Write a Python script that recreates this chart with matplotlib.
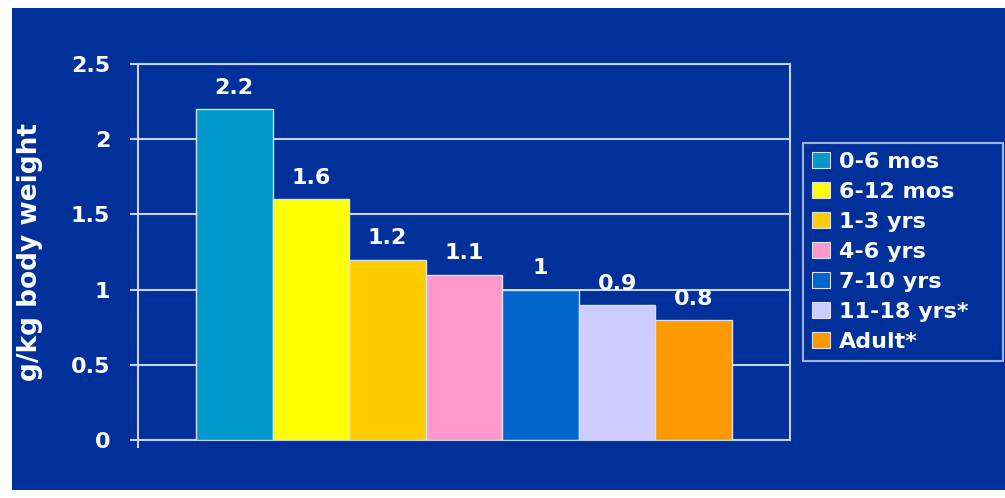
import matplotlib
matplotlib.use("Agg")
import matplotlib.pyplot as plt
from matplotlib.patches import Rectangle, Patch

# data
groups = ['0-6 mos', '6-12 mos', '1-3 yrs', '4-6 yrs', '7-10 yrs', '11-18 yrs*', 'Adult*']
values = [2.2, 1.6, 1.2, 1.1, 1.0, 0.9, 0.8]
labels = ['2.2', '1.6', '1.2', '1.1', '1', '0.9', '0.8']
colors = ['#0099CC', '#FFFF00', '#FFCC00', '#FF99CC', '#0066CC', '#CCCCFF', '#FF9900']
yticks = [0, 0.5, 1, 1.5, 2, 2.5]
ytick_labels = ['0', '0.5', '1', '1.5', '2', '2.5']

W, H = 1005, 498
bg = '#00319A'
line = '#C8D2EE'

fig = plt.figure(figsize=(W / 100, H / 100), dpi=100)
fig.patch.set_facecolor('white')
# blue slide panel behind everything
panel = Rectangle((12 / W, 8 / H), 1 - 12 / W, (490 - 8) / H,
                  transform=fig.transFigure, facecolor=bg,
                  edgecolor='none', zorder=-10)
fig.add_artist(panel)

ax = fig.add_axes([138 / W, (H - 440) / H, (790 - 138) / W, (440 - 64) / H])
ax.set_facecolor(bg)

x = list(range(len(values)))
bars = ax.bar(x, values, width=1.0, color=colors, edgecolor='#D8E0F4',
              linewidth=1.0, zorder=3)

for xi, v, lab in zip(x, values, labels):
    ax.annotate(lab, (xi, v), xytext=(0, 8), textcoords='offset points',
                ha='center', va='bottom', color='white', fontsize=16,
                fontweight='bold', zorder=4)

xmin, xmax = -1.256, 7.256
ax.set_xlim(xmin, xmax)
ax.set_ylim(0, 2.5)
ax.set_yticks(yticks)
ax.set_yticklabels(ytick_labels)
ax.set_xticks([xmin])
ax.set_xticklabels([''])
ax.tick_params(axis='x', colors=line, length=6, width=1.5)
ax.tick_params(axis='y', colors=line, length=6, width=1.5, pad=14,
               labelcolor='white', labelsize=16)
for lab in ax.get_yticklabels():
    lab.set_fontweight('bold')
ax.grid(axis='y', color=line, linewidth=1.5, zorder=1)
ax.set_axisbelow(True)
for s in ax.spines.values():
    s.set_color(line)
    s.set_linewidth(1.5)

ax.set_ylabel('g/kg body weight', color='white', fontsize=19,
              fontweight='bold', labelpad=20)

handles = [Patch(facecolor=c, edgecolor='#D8E0F4', linewidth=0.8) for c in colors]
leg = fig.legend(handles, groups, loc='upper left',
                 bbox_to_anchor=(803 / W, (H - 143) / H, 200 / W, 0.0),
                 mode='expand', frameon=True, fancybox=False,
                 handlelength=0.8, handleheight=0.75,
                 handletextpad=0.4, labelspacing=0.45, borderpad=0.4,
                 borderaxespad=0.0,
                 prop={'weight': 'bold', 'size': 16})
leg.get_frame().set_facecolor(bg)
leg.get_frame().set_edgecolor(line)
leg.get_frame().set_linewidth(1.5)
for t in leg.get_texts():
    t.set_color('white')

fig.savefig('out.png', dpi=100, facecolor=fig.get_facecolor())
